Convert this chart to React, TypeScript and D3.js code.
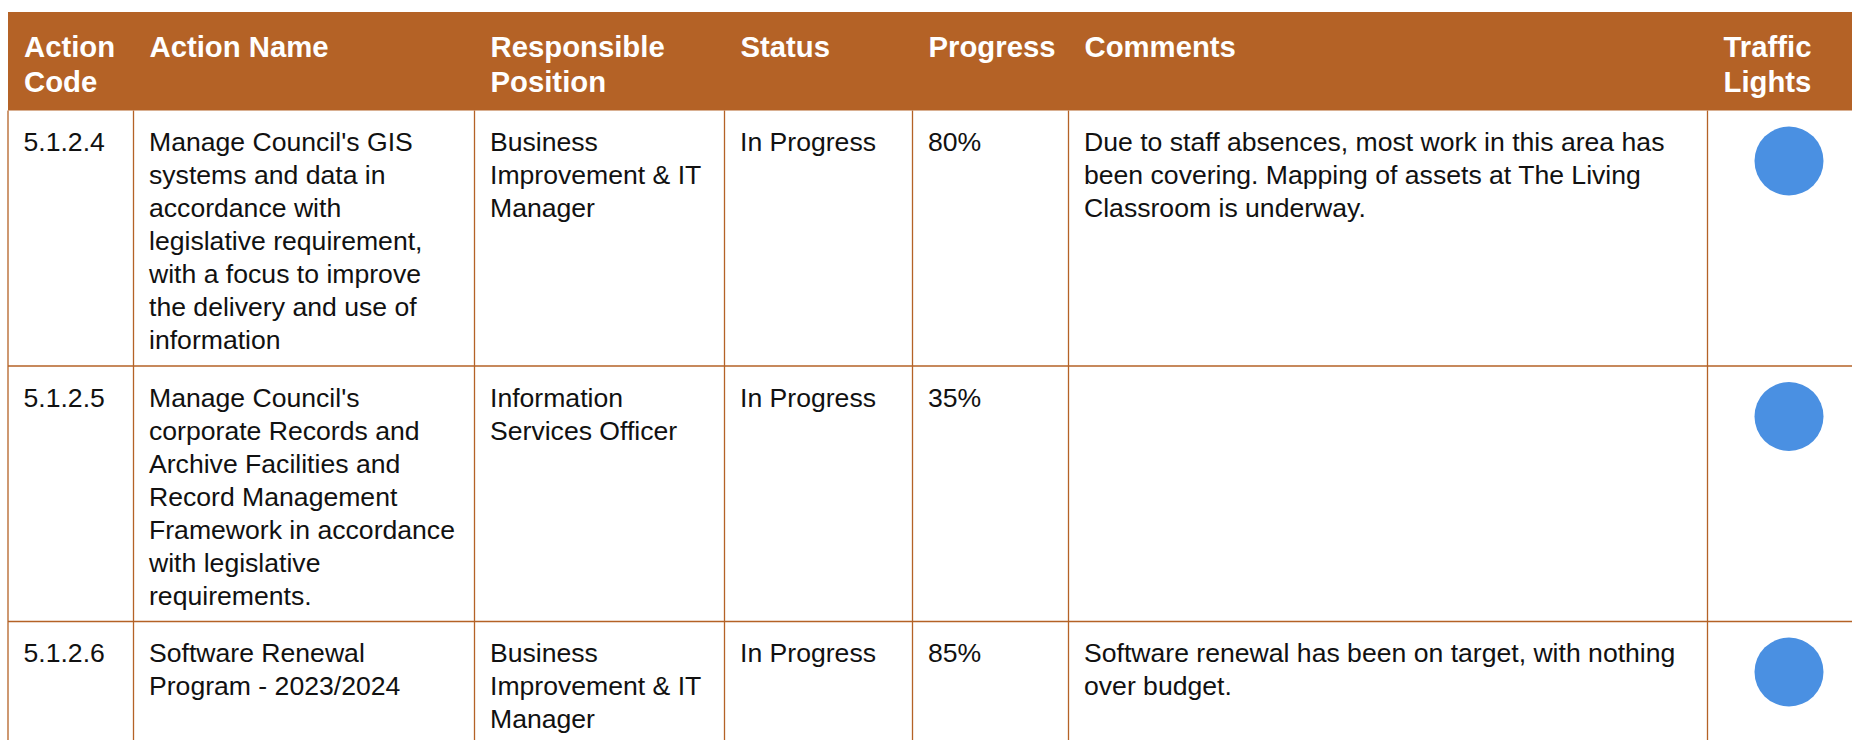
import React from 'react';
import * as d3 from 'd3';

// --- table content ---
const headers = [
    ['Action', 'Code'],
    ['Action Name'],
    ['Responsible', 'Position'],
    ['Status'],
    ['Progress'],
    ['Comments'],
    ['Traffic', 'Lights'],
];

const actionCodes = ['5.1.2.4', '5.1.2.5', '5.1.2.6'];

const actionNames = [
    [
        "Manage Council's GIS",
        'systems and data in',
        'accordance with',
        'legislative requirement,',
        'with a focus to improve',
        'the delivery and use of',
        'information',
    ],
    [
        "Manage Council's",
        'corporate Records and',
        'Archive Facilities and',
        'Record Management',
        'Framework in accordance',
        'with legislative',
        'requirements.',
    ],
    ['Software Renewal', 'Program - 2023/2024'],
];

const responsible = [
    ['Business', 'Improvement & IT', 'Manager'],
    ['Information', 'Services Officer'],
    ['Business', 'Improvement & IT', 'Manager'],
];

const statuses = ['In Progress', 'In Progress', 'In Progress'];

const progress = [80, 35, 85];

const comments = [
    [
        'Due to staff absences, most work in this area has',
        'been covering. Mapping of assets at The Living',
        'Classroom is underway.',
    ],
    [],
    [
        'Software renewal has been on target, with nothing',
        'over budget.',
    ],
];

const lights = ['blue', 'blue', 'blue'];

// --- layout ---
const W = 1852;
const H = 740;
const colEdges = [8, 133.5, 474.5, 724.5, 912.5, 1068.5, 1707.5, W + 2];
const headerTop = 12;
const headerBottom = 110.5;
const lineH = 33;
const rowPad = 24.5;
const font = "'Liberation Sans', Arial, Helvetica, sans-serif";
const orange = '#B46226';
const lightColor = d3.scaleOrdinal<string, string>()
    .domain(['blue', 'green', 'amber', 'red'])
    .range(['#4A90E2', '#4CAF50', '#F5A623', '#D0021B']);

const App = () => {
    // rows sized by their tallest cell
    const rowLines = actionCodes.map((_, i) =>
        Math.max(actionNames[i].length, responsible[i].length, comments[i].length, 1));
    const rowHeights = rowLines.map(n => n * lineH + rowPad);
    const rowTops = [headerBottom, ...Array.from(d3.cumsum(rowHeights)).map(v => headerBottom + v)];

    const pctFmt = d3.format('.0%');

    const cells = (i: number) => [
        [actionCodes[i]],
        actionNames[i],
        responsible[i],
        [statuses[i]],
        [pctFmt(progress[i] / 100)],
        comments[i],
    ];

    return (
        <div style={{ position: 'fixed', left: 0, top: 0, width: W, height: H, overflow: 'hidden', background: '#fff' }}>
            <svg width={W} height={H} style={{ display: 'block' }} fontFamily={font}>
                {/* header band */}
                <rect x={colEdges[0]} y={headerTop} width={W - colEdges[0]} height={headerBottom - headerTop} fill={orange} />
                {headers.map((lines, c) => (
                    <text key={c} x={colEdges[c] + 16} y={headerTop + 45} fill="#fff" fontWeight="bold" fontSize={29.3}>
                        {lines.map((l, k) => (
                            <tspan key={k} x={colEdges[c] + 16} dy={k === 0 ? 0 : 35}>{l}</tspan>
                        ))}
                    </text>
                ))}

                {/* body rows */}
                {actionCodes.map((_, i) => {
                    const top = rowTops[i];
                    return (
                        <g key={i}>
                            {cells(i).map((lines, c) => (
                                <text key={c} x={colEdges[c] + 16} y={top + 40.5} fill="#111" fontSize={26.6}>
                                    {lines.map((l, k) => (
                                        <tspan key={k} x={colEdges[c] + 15.5} dy={k === 0 ? 0 : lineH}>{l}</tspan>
                                    ))}
                                </text>
                            ))}
                            <circle cx={1789} cy={top + 50.5} r={34.5} fill={lightColor(lights[i])} />
                            <line x1={colEdges[0]} x2={W} y1={top + rowHeights[i]} y2={top + rowHeights[i]} stroke={orange} strokeWidth={1.3} />
                        </g>
                    );
                })}

                {/* vertical rules */}
                {colEdges.slice(0, -1).map((x, c) => (
                    <line key={c} x1={x} x2={x} y1={headerBottom} y2={H} stroke={orange} strokeWidth={1.3} />
                ))}
            </svg>
        </div>
    );
};

export default App;
